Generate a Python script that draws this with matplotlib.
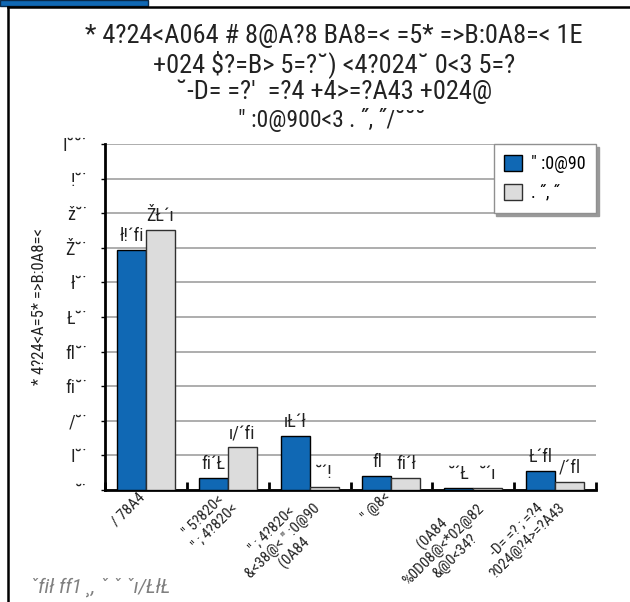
import numpy as np
import matplotlib
matplotlib.use('Agg')
import matplotlib.pyplot as plt
from matplotlib.patches import Rectangle
from matplotlib.lines import Line2D

plt.rcParams['font.family'] = ['Roboto Condensed', 'DejaVu Sans']

# data (text kept exactly as it appears in the source picture)
categories = ['/ 78A4',
              '" 5?820<\n" ; 4?820<',
              '" ; 4?820<\n&<38@< " :0@90\n(0A84',
              '" @8<',
              '(0A84\n%0D08@<*02@82\n&@0<34?',
              '-D= =? ; =?4\n?024@?4>=?A43']
series_names = ['" :0@90', '. ˝, ˝']
alaska = [69.3, 3.5, 15.6, 4.0, 0.5, 5.4]
us = [75.1, 12.3, 0.9, 3.6, 0.6, 2.4]
alaska_lbl = ['ł!´fi', 'fi´Ł', 'ıŁ´ł', 'fl', '˘´Ł', 'Ł´fl']
us_lbl = ['ŽŁ´ı', 'ı/´fi', '˘´!', 'fi´ł', '˘´ı', '/´fl']
yticks = [0, 10, 20, 30, 40, 50, 60, 70, 80, 90, 100]
ytick_lbl = ['˘˙', 'I˘˙', '/˘˙', 'fi˘˙', 'fl˘˙', 'Ł˘˙', 'ł˘˙', 'Ž˘˙', 'ž˘˙', '!˘˙', 'I˘˘˙']
title_lines = ['* 4?24<A064 # 8@A?8 BA8=< =5* =>B:0A8=< 1E',
               '+024 $?=B> 5=?˘) <4?024˘ 0<3 5=?',
               '˘-D= =?\'  =?4 +4>=?A43 +024@']
subtitle = '" :0@900<3 . ˝, ˝/˘˘˘'
ylabel = '* 4?24<A=5* =>B:0A8=<'
footnote = 'ˇfił ff1 ¸, ˇ ˇ ˇı/ŁłŁ'

BLUE = '#1068b4'
GREY = '#dcdcdc'

W, H = 630, 602
fig = plt.figure(figsize=(W / 100, H / 100), dpi=100)

# header tab + frame
fig.add_artist(Rectangle((0, 1 - 6 / H), 148 / W, 6 / H, transform=fig.transFigure,
                         facecolor=BLUE, edgecolor='#0a2a4a', lw=1))
fig.add_artist(Line2D([8 / W, 1], [1 - 7 / H, 1 - 7 / H], transform=fig.transFigure,
                      color='black', lw=1.8))
fig.add_artist(Line2D([8 / W, 8 / W], [0, 1 - 7 / H], transform=fig.transFigure,
                      color='black', lw=1.8))

ax = fig.add_axes([105 / W, 112 / H, 491 / W, 346 / H])
x = np.arange(len(categories))
w = 0.355
b1 = ax.bar(x - w / 2, alaska, w, color=BLUE, edgecolor='black', lw=1, label=series_names[0], zorder=3)
b2 = ax.bar(x + w / 2, us, w, color=GREY, edgecolor='#303030', lw=1, label=series_names[1], zorder=3)

for bars, lbls in ((b1, alaska_lbl), (b2, us_lbl)):
    for r, t in zip(bars, lbls):
        ax.annotate(t, (r.get_x() + r.get_width() / 2, r.get_height()), xytext=(0, 3.5),
                    textcoords='offset points', ha='center', va='bottom', fontsize=13,
                    color='#222222', zorder=4)

ax.set_xlim(-0.5, len(categories) - 0.5)
ax.set_ylim(0, 100)
ax.set_yticks(yticks)
ax.set_yticklabels(ytick_lbl, fontsize=13, color='#222222')
ax.set_xticks(np.arange(len(categories) + 1) - 0.5)
ax.set_xticklabels([])
ax.tick_params(axis='x', direction='in', length=6, width=2, color='black')
ax.tick_params(axis='y', direction='out', length=3, width=1, pad=10)
ax.yaxis.grid(True, color='#a0a0a0', lw=1.2, zorder=0)
ax.set_axisbelow(True)
for s in ('top', 'right'):
    ax.spines[s].set_visible(False)
for s in ('left', 'bottom'):
    ax.spines[s].set_linewidth(2)
    ax.spines[s].set_color('black')

# rotated category labels, anchored just left of each category centre
for i, c in enumerate(categories):
    ax.text(i - 0.1, 0.0, c, transform=ax.get_xaxis_transform(), rotation=45,
            rotation_mode='anchor', ha='right', va='top', multialignment='center',
            fontsize=11, color='#222222', linespacing=1.15)

leg = ax.legend(loc='upper right', bbox_to_anchor=(1.0, 1.0), borderaxespad=0,
                fontsize=13, frameon=True, fancybox=False, edgecolor='#909090',
                handlelength=1.0, handleheight=1.0, handletextpad=0.45,
                labelspacing=0.6, borderpad=0.6,
                shadow={'color': '0.6', 'alpha': 1})
leg.get_frame().set_linewidth(1)

for t, yy in zip(title_lines, [36, 64, 92]):
    fig.text(334 / W, 1 - yy / H, t, ha='center', va='center', fontsize=19, color='#222222')
fig.text(332 / W, 1 - 120 / H, subtitle, ha='center', va='center', fontsize=17, color='#222222')

fig.text(40 / W, 1 - 307 / H, ylabel, rotation=90, ha='center', va='center',
         fontsize=12, color='#222222')
fig.text(30 / W, 1 - 587 / H, footnote, ha='left', va='center', fontsize=15,
         style='italic', color='#808080')

fig.savefig('out.png', dpi=100)
